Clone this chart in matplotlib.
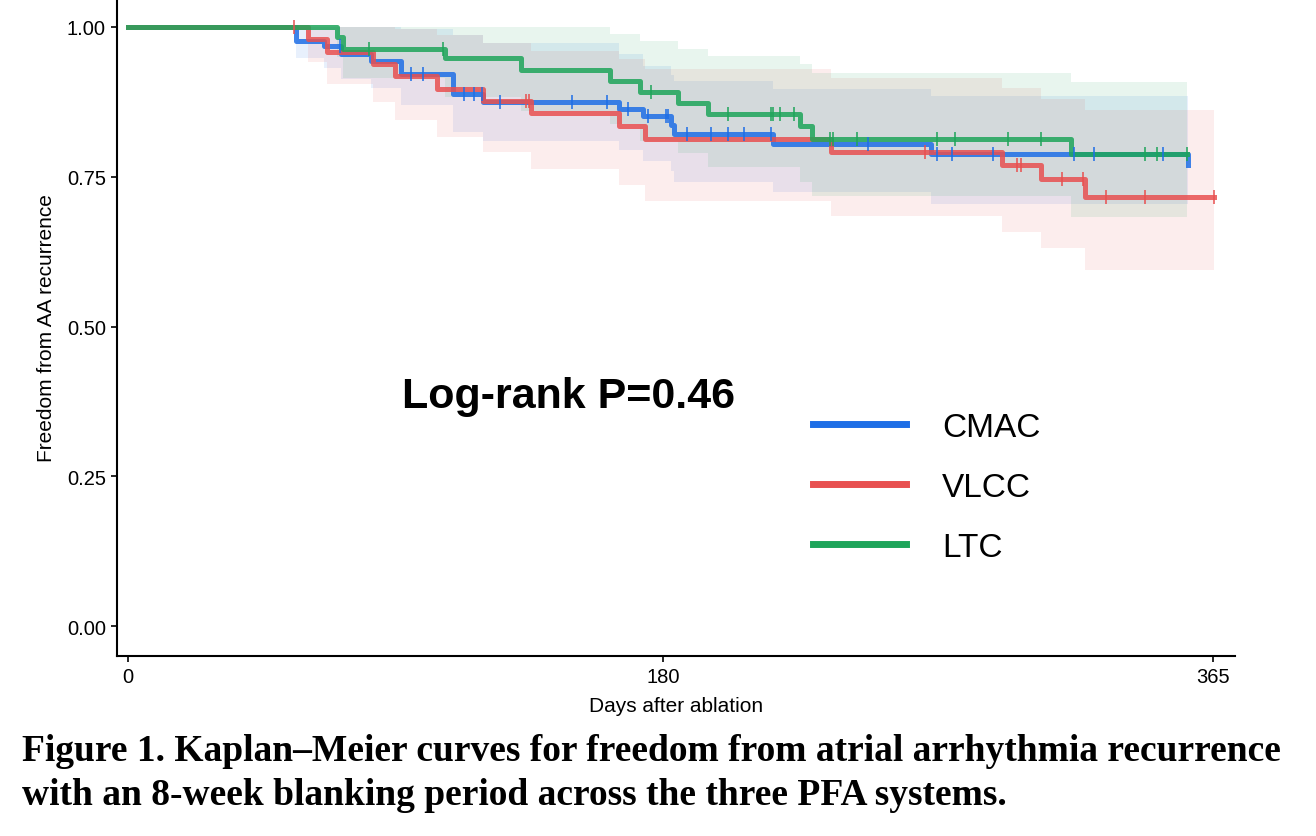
import numpy as np
import matplotlib
matplotlib.use("Agg")
import matplotlib.pyplot as plt
from matplotlib.lines import Line2D

plt.rcParams["font.family"] = ["Liberation Sans", "DejaVu Sans"]

# Kaplan-Meier step data (days, survival, 95% CI)
groups = ["CMAC", "VLCC", "LTC"]
colors = {"CMAC": "#1E6EE6", "VLCC": "#E85050", "LTC": "#1EA55A"}

cmac_time = [0, 56.7, 66, 71.6, 81.9, 92, 109.4, 119.4, 165.3, 173.2, 182.7, 183.8, 216.8, 270, 356.4]
cmac_surv = [1, 0.977, 0.968, 0.955, 0.944, 0.922, 0.888, 0.875, 0.863, 0.851, 0.836, 0.821, 0.805, 0.788, 0.770]
cmac_lower = [1, 0.948, 0.931, 0.913, 0.898, 0.869, 0.824, 0.810, 0.795, 0.777, 0.760, 0.742, 0.724, 0.705, 0.680]
cmac_upper = [1, 1.0, 1.0, 1.0, 1.0, 0.997, 0.987, 0.974, 0.955, 0.935, 0.920, 0.909, 0.897, 0.884, 0.870]
cmac_censor = [71.3, 95.1, 99.3, 113, 116.3, 119.2, 125.3, 149.3, 161.2, 168.3, 175, 181, 181.8, 188,
               196.1, 202, 207.1, 216.3, 249, 272, 277.3, 291, 318, 325, 348]
cmac_end = 356.4

vlcc_time = [0, 60.7, 67.1, 82.4, 90, 104, 119.4, 135.7, 165.3, 174, 236.4, 294, 307.1, 322]
vlcc_surv = [1, 0.980, 0.959, 0.938, 0.918, 0.897, 0.877, 0.856, 0.834, 0.813, 0.791, 0.770, 0.746, 0.716]
vlcc_lower = [1, 0.941, 0.905, 0.874, 0.844, 0.817, 0.791, 0.763, 0.736, 0.710, 0.684, 0.658, 0.631, 0.594]
vlcc_upper = [1, 1.0, 1.0, 1.0, 0.997, 0.987, 0.974, 0.960, 0.947, 0.930, 0.914, 0.898, 0.880, 0.862]
vlcc_censor = [55.9, 134, 134.8, 268, 299, 300.2, 314.2, 321.2, 329, 342.2, 365.3]
vlcc_end = 365.3

ltc_time = [0, 70.5, 72.4, 106.6, 132.3, 162.3, 172.4, 184.9, 195, 226, 230.2, 317.2]
ltc_surv = [1, 0.984, 0.964, 0.948, 0.928, 0.910, 0.892, 0.873, 0.855, 0.834, 0.813, 0.788]
ltc_lower = [1, 0.950, 0.915, 0.883, 0.860, 0.838, 0.810, 0.790, 0.766, 0.741, 0.718, 0.682]
ltc_upper = [1, 1.0, 1.0, 1.0, 1.0, 0.988, 0.976, 0.964, 0.952, 0.938, 0.924, 0.908]
ltc_censor = [81.1, 106, 176, 202, 216.3, 217.1, 219.2, 224.1, 236.2, 237.1, 245.1, 272, 278,
              296, 307, 342.2, 346.1, 356.2]
ltc_end = 356.2

data = {
    "CMAC": (cmac_time, cmac_surv, cmac_lower, cmac_upper, cmac_censor, cmac_end),
    "VLCC": (vlcc_time, vlcc_surv, vlcc_lower, vlcc_upper, vlcc_censor, vlcc_end),
    "LTC": (ltc_time, ltc_surv, ltc_lower, ltc_upper, ltc_censor, ltc_end),
}

x_ticks = [0, 180, 365]
y_ticks = [0.00, 0.25, 0.50, 0.75, 1.00]

fig = plt.figure(figsize=(13.16, 8.37), dpi=100)
ax = fig.add_axes([117 / 1316, 1 - 657 / 837, (1235 - 117) / 1316, 657 / 837])

# confidence bands first
for g in groups:
    t, s, lo, up, cens, end = data[g]
    tt = np.append(t, end)
    ax.fill_between(tt, np.append(lo, lo[-1]), np.append(up, up[-1]), step="post",
                    color=colors[g], alpha=0.1, linewidth=0)

# survival curves
for g in groups:
    t, s, lo, up, cens, end = data[g]
    tt = np.append(t, end)
    ss = np.append(s, s[-1])
    ax.step(tt, ss, where="post", color=colors[g], lw=3.6, alpha=0.85)

# censor marks
for g in groups:
    t, s, lo, up, cens, end = data[g]
    idx = np.searchsorted(t, cens, side="right") - 1
    ax.plot(cens, np.asarray(s)[idx], ls="none", marker="|", ms=10, mew=1.3,
            color=colors[g], alpha=0.85)

ax.set_xlim(-3.6, 372.3)
ax.set_ylim(-0.05, 1.0467)
ax.set_xticks(x_ticks)
ax.set_xticklabels([str(v) for v in x_ticks])
ax.set_yticks(y_ticks)
ax.set_yticklabels(["{:.2f}".format(v) for v in y_ticks])
for side in ["top", "right"]:
    ax.spines[side].set_visible(False)
for side in ["left", "bottom"]:
    ax.spines[side].set_linewidth(1.5)
ax.tick_params(direction="out", length=4.5, width=1.2, labelsize=14.5, colors="black")
ax.set_xlabel("Days after ablation", fontsize=15, labelpad=7)
ax.set_ylabel("Freedom from AA recurrence", fontsize=15, labelpad=8)

ax.text(148.2, 0.384, "Log-rank P=0.46", fontsize=31, fontweight="bold",
        ha="center", va="center")

handles = [Line2D([0], [0], color=colors[g], lw=5) for g in groups]
fig.legend(handles, groups, loc="upper left", bbox_to_anchor=(813 / 1316, 1 - 413 / 837),
           frameon=False, fontsize=24, handlelength=2.8, handletextpad=1.08,
           labelspacing=0.87, borderpad=0, borderaxespad=0)

# figure caption
cap1 = "Figure 1. Kaplan\u2013Meier curves for freedom from atrial arrhythmia recurrence"
cap2 = "with an 8-week blanking period across the three PFA systems."
t1 = fig.text(22 / 1316, 1 - 752 / 837, cap1, fontsize=24, fontweight="bold",
              family="Liberation Serif", va="center", ha="left")
t2 = fig.text(22 / 1316, 1 - 796 / 837, cap2, fontsize=24, fontweight="bold",
              family="Liberation Serif", va="center", ha="left")
fig.canvas.draw()
w = t1.get_window_extent().width
size = 24 * 1261 / w
t1.set_fontsize(size)
t2.set_fontsize(size)

fig.savefig("out.png", dpi=100)
